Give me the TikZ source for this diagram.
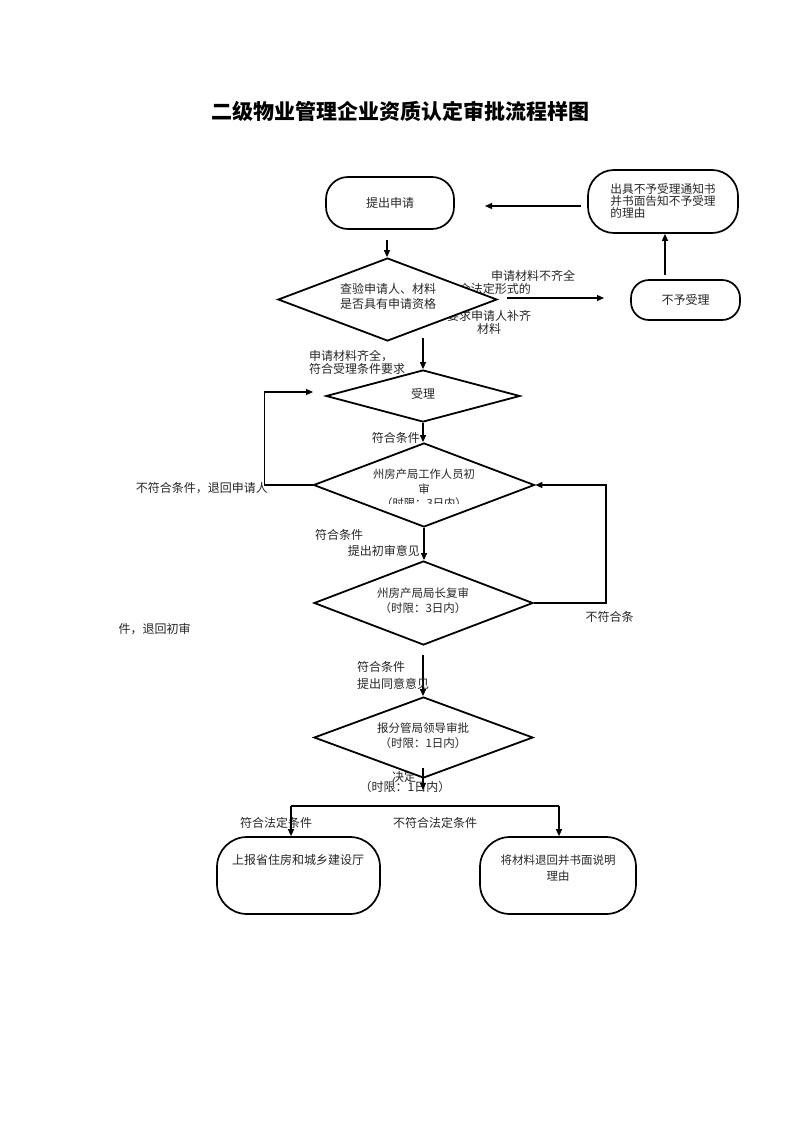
\documentclass[tikz,border=0pt]{standalone}
\usepackage{fontspec}
\setmainfont{Noto Sans CJK SC}
\usetikzlibrary{shapes.geometric,arrows.meta}
\begin{document}
\begin{tikzpicture}[x=1pt,y=-1pt,
  every node/.style={font=\fontsize{12}{14}\selectfont, inner sep=0pt, text=black!85},
  term/.style={draw, line width=1.7pt, rounded corners=#1, fill=white},
  term/.default=20,
  dia/.style={draw, diamond, line width=1.8pt, fill=white, aspect=2.6},
  arr/.style={line width=1.2pt, -{Triangle[length=7pt,width=6pt]}},
  ln/.style={line width=1.2pt},
  lbl/.style={font=\fontsize{12}{13}\selectfont}
]
\useasboundingbox[fill=white] (0,0) rectangle (800,1132);

% title
\node[font=\fontsize{21}{24}\selectfont\bfseries, text=black] (title) at (400,111) {二级物业管理企业资质认定审批流程样图};

% top boxes
\node[term=22, minimum width=128pt, minimum height=52pt] (b1) at (390,203) {提出申请};
\node[term=26, minimum width=150pt, minimum height=63pt, align=left,
      font=\fontsize{11.7}{12}\selectfont] (b2) at (663,201.5) {出具不予受理通知书\\并书面告知不予受理\\的理由};
\node[term=18, minimum width=109pt, minimum height=40pt] (b3) at (685.5,300) {不予受理};

% side label of first diamond (partly hidden by it)
\node[lbl] (l1a) at (533,276) {申请材料不齐全};
\node[lbl, anchor=east] (l1b) at (531,289) {不符合法定形式的};
\node[lbl, align=center] (l1c) at (489,322.5) {要求申请人补齐\\材料};

% first diamond
\node[dia, minimum width=219pt, minimum height=83pt] (d1) at (387.5,299.5) {};
\node[align=center, font=\fontsize{12}{15}\selectfont] (d1t) at (388,296.5) {查验申请人、材料\\是否具有申请资格};

% connectors top
\coordinate (c12s) at (581,206);
\coordinate (c12e) at (485,206);
\draw[arr] (c12s) -- (c12e);
\coordinate (c1) at (387,240);
\draw[arr] (c1) -- (c1 |- d1.north);
\coordinate (c13s) at (507,298);
\coordinate (c13e) at (604,298);
\draw[arr] (c13s) -- (c13e);
\coordinate (c32) at (665,275);
\draw[arr] (c32) -- (c32 |- b2.south);

% second diamond
\coordinate (c2) at (423,338);
\node[dia, minimum width=194pt, minimum height=52pt] (d2) at (423,396) {};
\node (d2t) at (423,394) {受理};
\draw[arr] (c2) -- (c2 |- d2.north);
\node[lbl, align=left, anchor=west] (l2) at (309,362.5) {申请材料齐全，\\符合受理条件要求};

% third diamond
\node[dia, minimum width=221pt, minimum height=84pt] (d3) at (424,485) {};
\begin{scope}
  \clip (320,455) rectangle (530,503);
  \node[align=center, font=\fontsize{11.3}{14.5}\selectfont] (d3t) at (424,489) {州房产局工作人员初\\审\\（时限：3日内）};
\end{scope}
\node[lbl, anchor=east] (l3) at (420,438) {符合条件};
\draw[arr] (d2.south) -- (d2.south |- d3.north);

\coordinate (c3) at (313,392);
\draw[arr] (d3.west) -- ++(-48,0) |- (c3);
\node[lbl, anchor=east] (l4) at (268,488) {不符合条件，退回申请人};

% fourth diamond
\node[dia, minimum width=219pt, minimum height=84pt] (d4) at (423.5,603) {};
\node[align=center, font=\fontsize{11.5}{15}\selectfont] (d4t) at (423,600.5) {州房产局局长复审\\（时限：3日内）};
\draw[arr] (d3.south) -- (d3.south |- d4.north);
\node[lbl, anchor=west] (l5) at (315,535) {符合条件};
\node[lbl, anchor=east] (l6) at (420,551) {提出初审意见};
\draw[arr] (d4.east) -- ++(72,0) |- (d3.east);
\node[lbl] (l7) at (609.5,617) {不符合条};
\node[lbl] (l8) at (154.5,629) {件，退回初审};

% fifth diamond
\node[lbl] (l11) at (404,777) {决定};
\node[lbl] (l12) at (405,787) {（时限：1日内）};
\node[dia, minimum width=219pt, minimum height=81pt] (d5) at (423.5,737.5) {};
\node[align=center, font=\fontsize{11.5}{15}\selectfont] (d5t) at (423,735.5) {报分管局领导审批\\（时限：1日内）};
\coordinate (c5) at (423,655);
\draw[arr] (c5) -- (c5 |- d5.north);
\node[lbl, anchor=west] (l9) at (357,667) {符合条件};
\node[lbl, anchor=west] (l10) at (357,684) {提出同意意见};
\coordinate (c6s) at (423,768);
\coordinate (c6e) at (423,790);
\draw[arr] (c6s) -- (c6e);

% bottom boxes
\node[lbl] (l13) at (276,823) {符合法定条件};
\node[lbl] (l14) at (435,823) {不符合法定条件};
\node[term=30, minimum width=163pt, minimum height=77pt] (b4) at (298.5,875.5) {};
\node (b4t) at (298,860) {上报省住房和城乡建设厅};
\node[term=30, minimum width=156pt, minimum height=77pt] (b5) at (558,875.5) {};
\node[align=center, font=\fontsize{11.5}{16}\selectfont] (b5t) at (558,868) {将材料退回并书面说明\\理由};
\coordinate (spl) at (291,806);
\coordinate (spr) at (559,806);
\draw[ln] (spl) -- (spr);
\draw[arr] (spl) -- (spl |- b4.north);
\draw[arr] (spr) -- (spr |- b5.north);
\end{tikzpicture}
\end{document}
